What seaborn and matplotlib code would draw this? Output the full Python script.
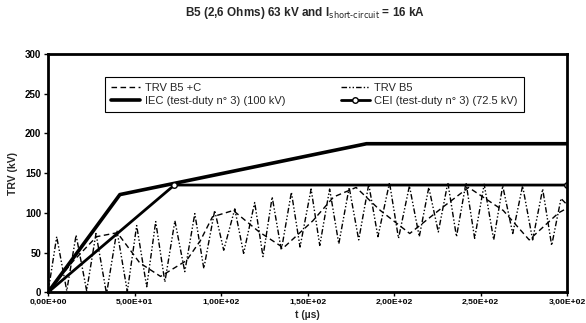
import matplotlib
matplotlib.use("Agg")
import matplotlib.pyplot as plt
import seaborn as sns
from matplotlib.ticker import FuncFormatter

# Data
# IEC (test-duty n° 3) (100 kV) envelope
t_iec = [0, 41.5, 184, 300]
v_iec = [0, 123, 187, 187]

# CEI (test-duty n° 3) (72.5 kV) envelope
t_cei = [0, 73, 300]
v_cei = [0, 135, 135]

# TRV B5 +C (slow oscillation)
t_b5c = [0, 14, 28, 40, 53, 65, 80, 88, 95, 107, 122, 136, 153, 165, 178,
         192, 209, 228, 243, 263, 278, 295, 300]
v_b5c = [0, 38, 70, 75, 37, 20, 40, 65, 95, 103, 76, 56, 90, 120, 132,
         103, 74, 107, 132, 103, 66, 100, 106]

# TRV B5 (fast oscillation, peaks and troughs)
t_b5 = [0, 5.0, 10.8, 16.2, 22.3, 27.7, 33.8, 39.8, 45.8, 51.2, 57.0, 62.2,
        67.5, 73.3, 79.0, 84.8, 90.0, 96.3, 101.5, 107.9, 113.0, 119.4,
        124.2, 129.5, 134.8, 140.6, 145.6, 152.0, 157.0, 162.7, 168.0,
        174.0, 179.5, 185.3, 190.6, 197.3, 202.5, 208.8, 214.5, 220.0,
        225.5, 231.0, 236.0, 241.5, 246.5, 252.0, 257.5, 262.7, 268.5,
        274.2, 280.0, 285.8, 291.0, 296.4, 300]
v_b5 = [0, 70, 2, 72, 2, 74, -2, 78, 1, 84, 7, 89,
        13, 90, 26, 99, 30, 103, 53, 105, 49, 113,
        45, 120, 53, 126, 57, 130, 59, 130, 61,
        132, 66, 136, 70, 138, 68, 134, 70, 132,
        76, 138, 70, 138, 68, 136, 66, 134, 74,
        134, 66, 130, 59, 118, 110]

x_ticks = [0, 50, 100, 150, 200, 250, 300]
y_ticks = [0, 50, 100, 150, 200, 250, 300]

sns.set_style("ticks")
plt.rcParams["font.family"] = ["Liberation Sans", "DejaVu Sans"]

fig = plt.figure(figsize=(5.86, 3.23), dpi=100)
ax = fig.add_axes([0.082, 0.095, 0.886, 0.738])

sns.lineplot(x=t_b5c, y=v_b5c, ax=ax, color="black", lw=1.0,
             linestyle=(0, (4, 2.5)), label="TRV B5 +C", sort=False, estimator=None)
sns.lineplot(x=t_iec, y=v_iec, ax=ax, color="black", lw=2.6,
             label="IEC (test-duty n° 3) (100 kV)", sort=False, estimator=None)
sns.lineplot(x=t_b5, y=v_b5, ax=ax, color="black", lw=1.0,
             linestyle=(0, (4, 1.5, 1, 1.5, 1, 1.5)), label="TRV B5",
             sort=False, estimator=None)
sns.lineplot(x=t_cei, y=v_cei, ax=ax, color="black", lw=2.0, marker="o",
             markersize=4, markerfacecolor="white", markeredgecolor="black",
             markeredgewidth=1.0, label="CEI (test-duty n° 3) (72.5 kV)",
             sort=False, estimator=None)

ax.set_xlim(0, 300)
ax.set_ylim(0, 300)
ax.set_xticks(x_ticks)
ax.set_yticks(y_ticks)
ax.xaxis.set_major_formatter(FuncFormatter(lambda v, p: f"{v:.2E}".replace(".", ",")))
for lab in ax.get_xticklabels():
    lab.set_fontsize(6.1)
    lab.set_fontweight("bold")
for lab in ax.get_yticklabels():
    lab.set_fontsize(7)
    lab.set_fontweight("bold")
ax.tick_params(length=3, width=1, pad=2, colors="black")
for s in ax.spines.values():
    s.set_visible(True)
    s.set_linewidth(2)
    s.set_color("black")

ax.set_xlabel("t (µs)", fontsize=7.5, fontweight="bold", labelpad=3)
ax.set_ylabel("TRV (kV)", fontsize=7.5, fontweight="bold", labelpad=5)
fig.suptitle("B5 (2,6 Ohms) 63 kV and I$_{\\mathrm{short\u2010circuit}}$ = 16 kA",
             fontsize=8.5, fontweight="bold", x=0.52, y=0.985)

handles, labels = ax.get_legend_handles_labels()
leg = ax.legend(handles, labels, ncol=2, loc="upper left",
                bbox_to_anchor=(0.11, 0.905), borderaxespad=0,
                fontsize=8, handlelength=2.6, handletextpad=0.4,
                columnspacing=5.0, frameon=True, fancybox=False,
                edgecolor="black", framealpha=1, borderpad=0.55,
                labelspacing=0.3)
leg.get_frame().set_linewidth(0.8)

fig.savefig("out.png", dpi=100)
